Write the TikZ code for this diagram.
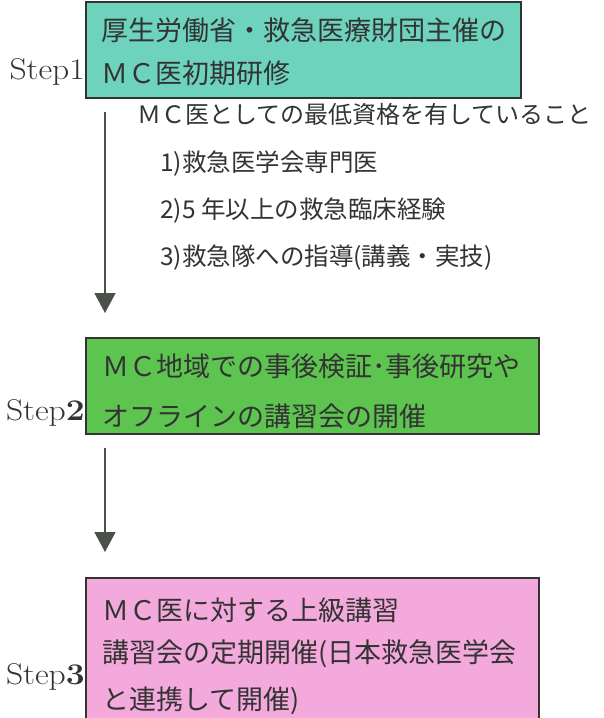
\documentclass[tikz,border=0pt]{standalone}
\usepackage{fontspec}
\usepackage{graphicx}
\newfontfamily\jp{Noto Sans CJK JP}
\usetikzlibrary{arrows.meta}
\definecolor{tealbox}{HTML}{6DD3BD}
\definecolor{greenbox}{HTML}{5DC450}
\definecolor{pinkbox}{HTML}{F4A9DC}
\definecolor{ink}{HTML}{333333}
\definecolor{arrowgray}{HTML}{4A504A}
\newcommand{\steptxt}[1]{\scalebox{1.12}[1]{#1}}
\tikzset{
  stepbox/.style={draw=ink, line width=1.5pt},
  boxtext/.style={anchor=west, inner sep=0pt, text=ink, font=\jp\fontsize{27}{27}\selectfont},
  plaintext/.style={anchor=west, inner sep=0pt, text=ink, font=\jp\fontsize{24}{24}\selectfont},
  itemtext/.style={anchor=west, inner sep=0pt, text=ink, font=\jp\fontsize{24.5}{24.5}\selectfont},
  steplabel/.style={anchor=east, inner sep=0pt, text=ink, font=\fontsize{30}{30}\selectfont},
  flow/.style={draw=arrowgray, line width=1.6pt, -{Triangle[width=21pt,length=20pt]}}
}
\begin{document}
\begin{tikzpicture}[x=1pt,y=-1pt]
\useasboundingbox (0,0) rectangle (604,718);
% Step 1
\draw[stepbox, fill=tealbox] (86,2) rectangle (521,98);
\node[boxtext] (b1a) at (101,30) {厚生労働省・救急医療財団主催の};
\node[boxtext] (b1b) at (101,73) {ＭＣ医初期研修};
\node[steplabel] (s1) at (85,72) {\steptxt{Step1}};
% requirements
\node[plaintext] (r0) at (137,114) {ＭＣ医としての最低資格を有していること};
\node[itemtext] (r1) at (160,164) {1)救急医学会専門医};
\node[itemtext] (r2) at (160,211) {2)5 年以上の救急臨床経験};
\node[itemtext] (r3) at (160,258) {3)救急隊への指導(講義・実技)};
\coordinate (a1s) at (105,112);
\coordinate (a1e) at (105,313);
\draw[flow] (a1s) -- (a1e);
% Step 2
\draw[stepbox, fill=greenbox] (86,338) rectangle (539,434);
\node[boxtext] (b2a) at (102,366) {ＭＣ地域での事後検証･事後研究や};
\node[boxtext] (b2b) at (102,416) {オフラインの講習会の開催};
\node[steplabel] (s2) at (85,413) {\steptxt{Step\textbf{2}}};
\coordinate (a2s) at (105,448);
\coordinate (a2e) at (105,552);
\draw[flow] (a2s) -- (a2e);
% Step 3
\draw[stepbox, fill=pinkbox] (86,578) rectangle (539,740);
\node[boxtext] (b3a) at (102,610) {ＭＣ医に対する上級講習};
\node[boxtext] (b3b) at (102,654) {講習会の定期開催(日本救急医学会};
\node[boxtext] (b3c) at (102,701) {と連携して開催)};
\node[steplabel] (s3) at (85,677) {\steptxt{Step\textbf{3}}};
\end{tikzpicture}
\end{document}
